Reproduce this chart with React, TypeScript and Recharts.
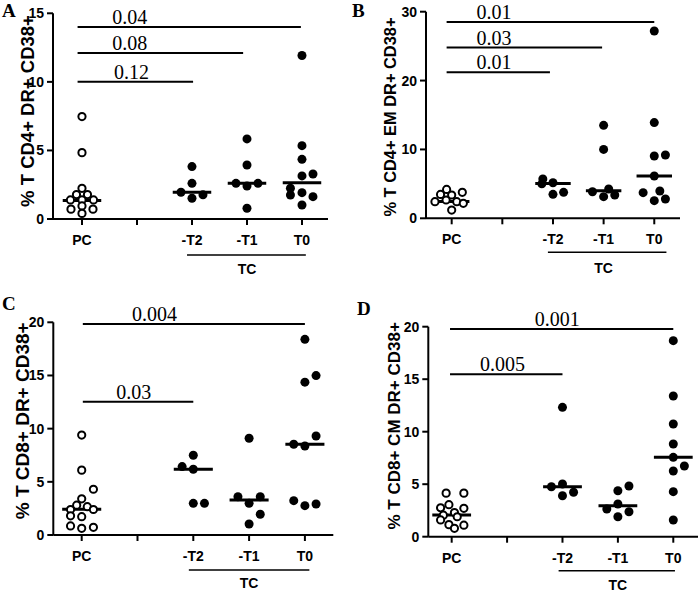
import React from 'react';
import { ScatterChart, Scatter, XAxis, YAxis, ReferenceLine } from 'recharts';

type Pt = [number, number]; // [value, horizontal jitter in category units]

const categories = ['PC', '', '-T2', '-T1', 'T0'];
const tcIndex = [2, 3, 4];
const groupLabel = 'TC';

// Panel A — % T CD4+ DR+ CD38+
const aPC: Pt[] = [[7.47, 0], [4.84, 0], [2.24, 0], [1.78, -0.1], [1.78, 0.1], [1.39, -0.21], [1.39, 0], [1.39, 0.21], [0.72, -0.2], [0.95, 0], [0.72, 0.2], [0.41, 0]];
const aT2: Pt[] = [[3.82, 0], [2.6, 0], [1.95, -0.2], [1.77, 0.2], [1.51, 0]];
const aT1: Pt[] = [[5.84, 0], [3.94, 0], [2.6, -0.2], [2.41, 0], [2.6, 0.2], [0.78, 0]];
const aT0: Pt[] = [[11.92, 0], [5.35, 0], [4.35, 0], [3.14, 0], [3.28, 0.2], [2.24, -0.21], [1.75, -0.21], [1.92, 0], [1.63, 0.2], [1.02, 0]];
const aMedians = [1.35, 1.95, 2.6, 2.65];
const aSigValues = ['0.04', '0.08', '0.12'];
const aSigLevels = [14, 12.1, 10];
const aSigEnds = [3.98, 2.93, 2.02];
const aTicks = [0, 5, 10, 15];

// Panel B — % T CD4+ EM DR+ CD38+
const bPC: Pt[] = [[4.19, -0.1], [3.47, -0.22], [3.38, 0], [3.77, 0.21], [2.41, -0.33], [2.66, -0.11], [2.41, 0.1], [2.18, 0.23], [1.2, 0]];
const bT2: Pt[] = [[5.7, -0.2], [5.0, -0.22], [5.17, 0], [3.48, 0], [3.77, 0.21]];
const bT1: Pt[] = [[13.5, 0], [10.0, 0], [3.86, -0.22], [3.14, 0], [4.25, 0.1], [3.38, 0.22]];
const bT0: Pt[] = [[27.2, 0], [13.9, 0], [9.04, 0], [9.19, 0.22], [6.14, 0], [3.72, -0.22], [3.96, 0.11], [2.56, 0], [2.8, 0.22]];
const bMedians = [2.45, 5.07, 4.0, 6.14];
const bSigValues = ['0.01', '0.03', '0.01'];
const bSigLevels = [28.5, 24.8, 21.2];
const bSigEnds = [4.0, 2.97, 1.94];
const bTicks = [0, 10, 20, 30];

// Panel C — % T CD8+ DR+ CD38+
const cPC: Pt[] = [[9.4, 0], [6.1, 0], [4.3, 0.21], [3.4, 0], [2.8, -0.09], [2.66, 0.1], [2.4, -0.2], [2.4, 0.21], [1.8, -0.2], [1.72, 0], [0.85, -0.2], [0.63, 0], [0.72, 0.21]];
const cT2: Pt[] = [[7.5, 0], [6.43, -0.2], [6.18, 0], [2.98, 0], [2.98, 0.2]];
const cT1: Pt[] = [[9.1, 0], [3.6, -0.2], [3.6, 0.2], [2.98, 0], [1.95, 0.2], [1.03, 0]];
const cT0: Pt[] = [[18.4, 0], [14.37, 0], [14.99, 0.2], [9.31, 0.2], [8.53, -0.2], [8.37, 0], [3.23, -0.2], [2.76, 0], [2.92, 0.2]];
const cMedians = [2.41, 6.18, 3.3, 8.53];
const cSigValues = ['0.004', '0.03'];
const cSigLevels = [19.84, 12.54];
const cSigEnds = [4.0, 2.0];
const cTicks = [0, 5, 10, 15, 20];

// Panel D — % T CD8+ CM DR+ CD38+
const dPC: Pt[] = [[4.15, -0.1], [4.15, 0.22], [3.05, -0.05], [2.75, -0.2], [2.7, 0.22], [2.3, 0.05], [2.05, -0.15], [1.6, -0.2], [1.15, -0.05], [1.1, 0.22], [0.8, 0.05], [1.9, 0.1]];
const dT2: Pt[] = [[12.32, 0], [4.76, -0.2], [5.02, 0], [3.9, 0], [4.23, 0.2]];
const dT1: Pt[] = [[4.38, 0], [4.83, 0.2], [2.64, -0.2], [3.11, 0], [2.38, 0.2], [1.9, 0]];
const dT0: Pt[] = [[18.67, 0], [13.4, 0], [10.73, 0], [8.83, 0], [7.56, 0], [6.73, 0.2], [6.26, 0], [4.29, 0], [1.59, 0]];
const dMedians = [2.06, 4.76, 2.95, 7.56];
const dSigValues = ['0.001', '0.005'];
const dSigLevels = [19.78, 15.46];
const dSigEnds = [4.0, 2.0];
const dTicks = [0, 5, 10, 15, 20];

const SANS = "'Liberation Sans', Arial, Helvetica, sans-serif";
const SERIF = "'Liberation Serif', 'Times New Roman', serif";
const Y_AXIS_W = 40;

type PanelProps = {
  left: number; top: number; width: number; height: number;
  margin: { top: number; right: number; bottom: number; left: number };
  xDomain: [number, number]; yDomain: [number, number]; yTicks: number[];
  letter: string; letterPos: [number, number];
  yLabel: string; yLabelPos: [number, number]; yLabelSize: number;
  pc: Pt[]; tc: Pt[][]; medians: number[];
  sigValues: string[]; sigLevels: number[]; sigEnds: number[]; sigStart: number; sigTextX: number[];
  bracket: { from: number; to: number; lineDy: number; textDy: number };
};

function Panel(p: PanelProps) {
  const pcData = p.pc.map(([v, j]) => ({ x: 0 + j, y: v }));
  const tcData = p.tc.flatMap((g, k) => g.map(([v, j]) => ({ x: tcIndex[k] + j, y: v })));
  const medianIdx = [0, ...tcIndex];
  const [d0, d1] = p.xDomain;
  const plotLeft = p.margin.left + Y_AXIS_W;
  const plotWidth = p.width - p.margin.left - Y_AXIS_W - p.margin.right;
  const sx = (v: number) => plotLeft + ((v - d0) / (d1 - d0)) * plotWidth;

  const xLabel = (props: any) => {
    const vb = props.viewBox || {};
    return (
      <g>
        <line x1={sx(p.bracket.from)} x2={sx(p.bracket.to)} y1={vb.y + p.bracket.lineDy} y2={vb.y + p.bracket.lineDy} stroke="#000" strokeWidth={1.5} />
        <text x={sx(3)} y={vb.y + p.bracket.textDy} textAnchor="middle" dominantBaseline="central" fontFamily={SANS} fontWeight="bold" fontSize={14} fill="#000">{groupLabel}</text>
      </g>
    );
  };

  const yLabel = () => (
    <g>
      <text x={p.letterPos[0]} y={p.letterPos[1]} fontFamily={SERIF} fontWeight="bold" fontSize={19} fill="#000">{p.letter}</text>
      <text x={p.yLabelPos[0]} y={p.yLabelPos[1]} transform={`rotate(-90, ${p.yLabelPos[0]}, ${p.yLabelPos[1]})`} textAnchor="middle" dominantBaseline="central" fontFamily={SANS} fontWeight="bold" fontSize={p.yLabelSize} fill="#000">{p.yLabel}</text>
    </g>
  );

  const sigLabel = (i: number) => (lp: any) => {
    const vb = lp.viewBox || {};
    return (
      <text x={sx(p.sigTextX[i])} y={vb.y - 3} textAnchor="start" fontFamily={SERIF} fontSize={20} fill="#000">{p.sigValues[i]}</text>
    );
  };

  return (
    <div style={{ position: 'absolute', left: p.left, top: p.top }}>
      <ScatterChart width={p.width} height={p.height} margin={p.margin}>
        <XAxis type="number" dataKey="x" domain={p.xDomain} ticks={[0, 1, 2, 3, 4]} tickFormatter={(v: number) => categories[v]} interval={0}
          height={30} axisLine={{ stroke: '#000', strokeWidth: 2 }} tickLine={{ stroke: '#000', strokeWidth: 2 }} tickSize={6} tickMargin={10}
          tick={{ fill: '#000', fontSize: 14, fontWeight: 'bold', fontFamily: SANS }} label={{ content: xLabel }} />
        <YAxis type="number" dataKey="y" domain={p.yDomain} ticks={p.yTicks} interval={0} width={Y_AXIS_W}
          axisLine={{ stroke: '#000', strokeWidth: 2 }} tickLine={{ stroke: '#000', strokeWidth: 2 }} tickSize={6} tickMargin={3}
          tick={{ fill: '#000', fontSize: 14, fontWeight: 'bold', fontFamily: SANS }} label={{ content: yLabel }} />
        {p.sigLevels.map((lv, i) => (
          <ReferenceLine key={'s' + i} segment={[{ x: p.sigStart, y: lv }, { x: p.sigEnds[i], y: lv }]} stroke="#000" strokeWidth={2} ifOverflow="visible"
            label={{ content: sigLabel(i) }} />
        ))}
        <Scatter data={pcData} isAnimationActive={false}
          shape={(s: any) => <circle cx={s.cx} cy={s.cy} r={3.6} fill="#fff" stroke="#000" strokeWidth={2} />} />
        <Scatter data={tcData} isAnimationActive={false}
          shape={(s: any) => <circle cx={s.cx} cy={s.cy} r={4.5} fill="#000" stroke="none" />} />
        {p.medians.map((m, i) => (
          <ReferenceLine key={'m' + i} segment={[{ x: medianIdx[i] - 0.35, y: m }, { x: medianIdx[i] + 0.35, y: m }]} stroke="#000" strokeWidth={3} ifOverflow="visible" />
        ))}
      </ScatterChart>
    </div>
  );
}

export default function App() {
  return (
    <div style={{ position: 'absolute', left: 0, top: 0, width: 700, height: 593, background: '#fff' }}>
      <Panel left={0} top={0} width={350} height={290} margin={{ top: 13.3, right: 22, bottom: 41, left: 13 }}
        xDomain={[-0.527, 4.473]} yDomain={[0, 15]} yTicks={aTicks}
        letter="A" letterPos={[2, 17]} yLabel="% T CD4+ DR+ CD38+" yLabelPos={[27, 111]} yLabelSize={18.5}
        pc={aPC} tc={[aT2, aT1, aT0]} medians={aMedians}
        sigValues={aSigValues} sigLevels={aSigLevels} sigEnds={aSigEnds} sigStart={-0.08} sigTextX={[0.55, 0.55, 0.58]}
        bracket={{ from: 1.91, to: 4.07, lineDy: 36, textDy: 50 }} />
      <Panel left={350} top={0} width={350} height={290} margin={{ top: 11.7, right: 20, bottom: 41.7, left: 36 }}
        xDomain={[-0.507, 4.508]} yDomain={[0, 30]} yTicks={bTicks}
        letter="B" letterPos={[2, 17]} yLabel="% T CD4+ EM DR+ CD38+" yLabelPos={[40, 117]} yLabelSize={16.4}
        pc={bPC} tc={[bT2, bT1, bT0]} medians={bMedians}
        sigValues={bSigValues} sigLevels={bSigLevels} sigEnds={bSigEnds} sigStart={-0.1} sigTextX={[0.49, 0.49, 0.49]}
        bracket={{ from: 1.9, to: 4.24, lineDy: 34, textDy: 50 }} />
      <Panel left={0} top={290} width={350} height={303} margin={{ top: 32.3, right: 16.7, bottom: 28, left: 13.3 }}
        xDomain={[-0.509, 4.509]} yDomain={[0, 20]} yTicks={cTicks}
        letter="C" letterPos={[2, 20]} yLabel="% T CD8+ DR+ CD38+" yLabelPos={[23, 130.8]} yLabelSize={19}
        pc={cPC} tc={[cT2, cT1, cT0]} medians={cMedians}
        sigValues={cSigValues} sigLevels={cSigLevels} sigEnds={cSigEnds} sigStart={0.02} sigTextX={[0.9, 0.62]}
        bracket={{ from: 1.92, to: 4.08, lineDy: 35, textDy: 48.3 }} />
      <Panel left={350} top={290} width={350} height={303} margin={{ top: 36.7, right: 2, bottom: 26.3, left: 38.3 }}
        xDomain={[-0.422, 4.446]} yDomain={[0, 20]} yTicks={dTicks}
        letter="D" letterPos={[7, 25]} yLabel="% T CD8+ CM DR+ CD38+" yLabelPos={[45, 135.8]} yLabelSize={17}
        pc={dPC} tc={[dT2, dT1, dT0]} medians={dMedians}
        sigValues={dSigValues} sigLevels={dSigLevels} sigEnds={dSigEnds} sigStart={-0.03} sigTextX={[1.5, 0.51]}
        bracket={{ from: 1.93, to: 4.03, lineDy: 34, textDy: 48.5 }} />
    </div>
  );
}
